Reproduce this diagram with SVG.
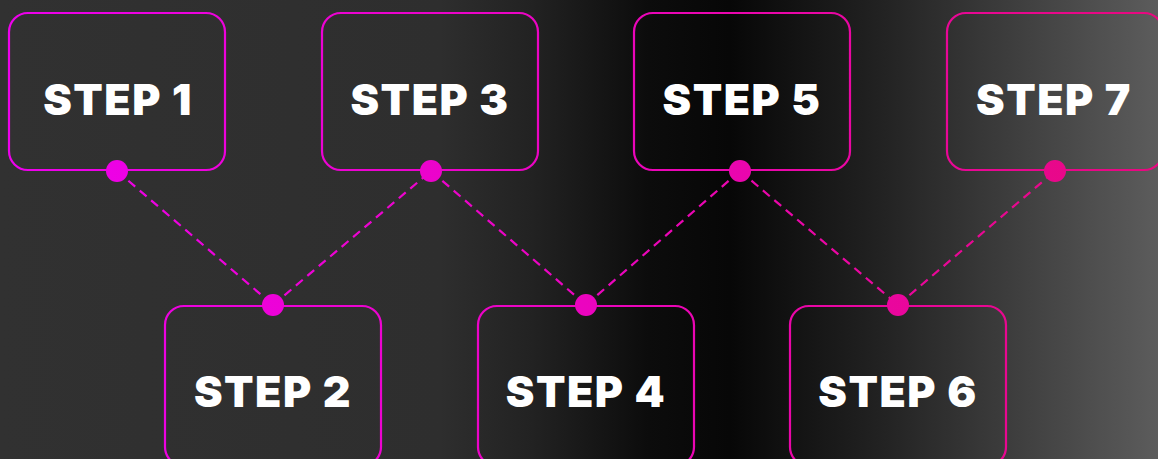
<svg xmlns="http://www.w3.org/2000/svg" width="1158" height="459" viewBox="0 0 1158 459">
  <defs>
    <linearGradient id="bg" x1="0" y1="0" x2="1158" y2="0" gradientUnits="userSpaceOnUse">
      <stop offset="0" stop-color="#313131"/>
      <stop offset="0.38" stop-color="#2e2e2e"/>
      <stop offset="0.46" stop-color="#222222"/>
      <stop offset="0.56" stop-color="#0c0c0c"/>
      <stop offset="0.63" stop-color="#070707"/>
      <stop offset="0.76" stop-color="#222222"/>
      <stop offset="1" stop-color="#5c5c5c"/>
    </linearGradient>
    <linearGradient id="pk" x1="0" y1="0" x2="1158" y2="0" gradientUnits="userSpaceOnUse">
      <stop offset="0" stop-color="#ee00ee"/>
      <stop offset="0.5" stop-color="#eb04c0"/>
      <stop offset="1" stop-color="#e8087f"/>
    </linearGradient>
    <style>
      .box { fill: none; stroke: url(#pk); stroke-width: 2.2; }
      .dot { fill: url(#pk); }
      .lbl { font-family: Inter, "Open Sans", "Liberation Sans", sans-serif; font-weight: 900; font-size: 43px; fill: #ffffff; text-anchor: middle; dominant-baseline: central; letter-spacing: 1.5px; }
      .con { stroke: url(#pk); stroke-width: 2.2; stroke-dasharray: 9 6; fill: none; }
    </style>
  </defs>
  <rect x="0" y="0" width="1158" height="459" fill="url(#bg)"/>

  <g id="connectors">
    <line class="con" x1="117" y1="171" x2="273" y2="305"/>
    <line class="con" x1="273" y1="305" x2="431" y2="171"/>
    <line class="con" x1="431" y1="171" x2="586" y2="305"/>
    <line class="con" x1="586" y1="305" x2="740" y2="171"/>
    <line class="con" x1="740" y1="171" x2="898" y2="305"/>
    <line class="con" x1="898" y1="305" x2="1055" y2="171"/>
  </g>

  <g id="step1">
    <rect class="box" x="9" y="13" width="216" height="157" rx="19"/>
    <text class="lbl" x="118" y="99">STEP 1</text>
    <circle class="dot" cx="117" cy="171" r="11"/>
  </g>
  <g id="step3">
    <rect class="box" x="322" y="13" width="216" height="157" rx="19"/>
    <text class="lbl" x="430" y="99">STEP 3</text>
    <circle class="dot" cx="431" cy="171" r="11"/>
  </g>
  <g id="step5">
    <rect class="box" x="634" y="13" width="216" height="157" rx="19"/>
    <text class="lbl" x="742" y="99">STEP 5</text>
    <circle class="dot" cx="740" cy="171" r="11"/>
  </g>
  <g id="step7">
    <rect class="box" x="947" y="13" width="216" height="157" rx="19"/>
    <text class="lbl" x="1054" y="99">STEP 7</text>
    <circle class="dot" cx="1055" cy="171" r="11"/>
  </g>
  <g id="step2">
    <rect class="box" x="165" y="306" width="216" height="160" rx="19"/>
    <text class="lbl" x="273" y="391">STEP 2</text>
    <circle class="dot" cx="273" cy="305" r="11"/>
  </g>
  <g id="step4">
    <rect class="box" x="478" y="306" width="216" height="160" rx="19"/>
    <text class="lbl" x="586" y="391">STEP 4</text>
    <circle class="dot" cx="586" cy="305" r="11"/>
  </g>
  <g id="step6">
    <rect class="box" x="790" y="306" width="216" height="160" rx="19"/>
    <text class="lbl" x="898" y="391">STEP 6</text>
    <circle class="dot" cx="898" cy="305" r="11"/>
  </g>
</svg>
